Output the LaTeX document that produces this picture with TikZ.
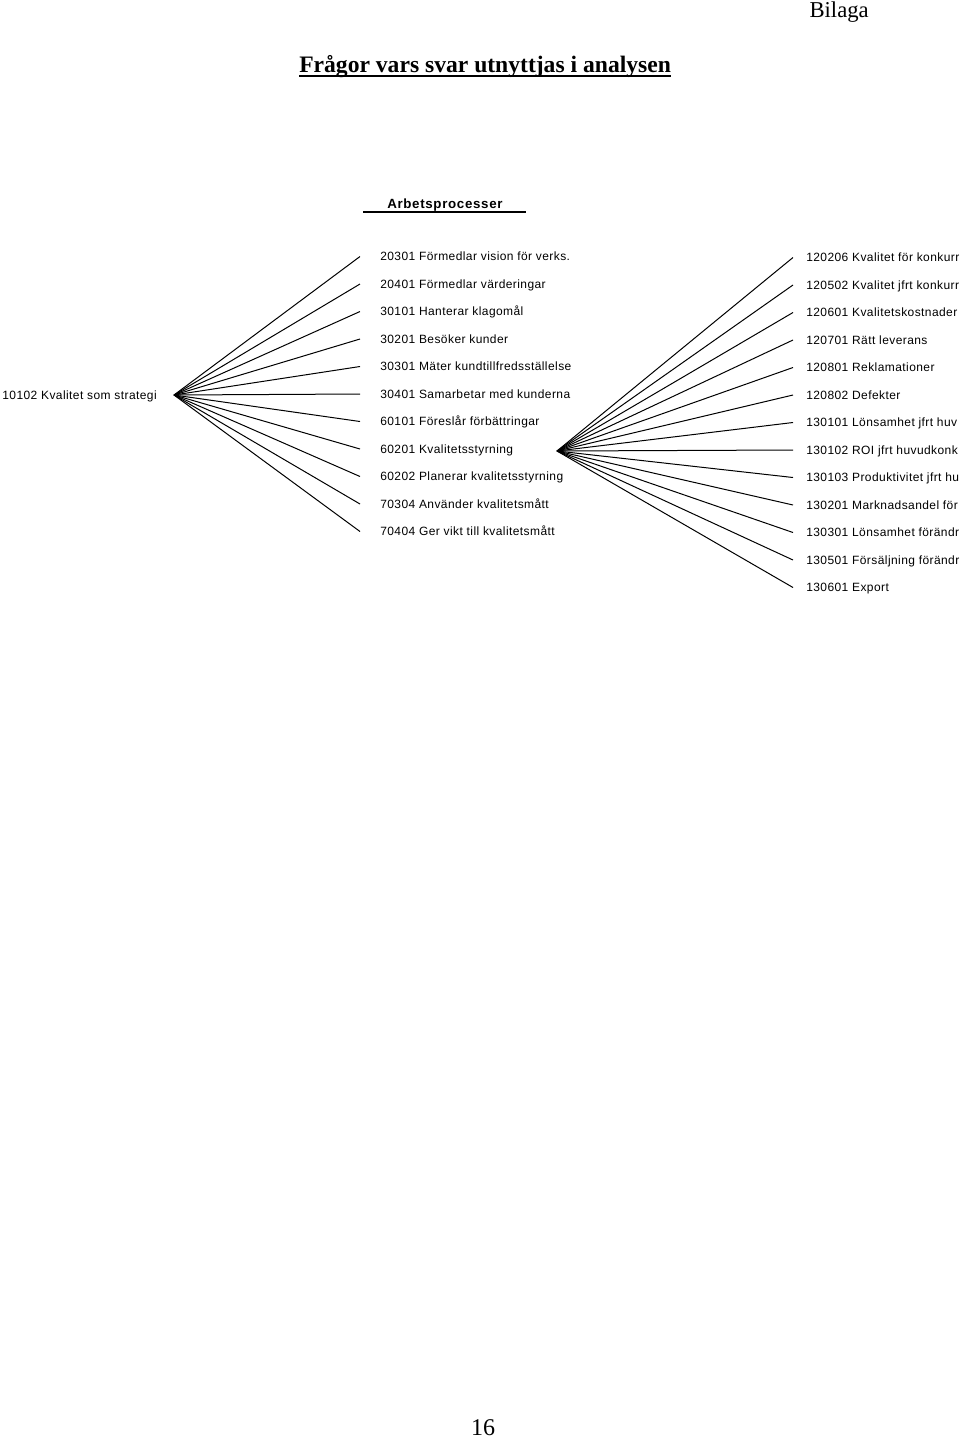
\documentclass[tikz,border=0pt]{standalone}
\usepackage{fontspec}
\setmainfont{Liberation Serif}
\setsansfont{Liberation Sans}
\newfontfamily\labfont[LetterSpace=3.5]{Liberation Sans}
\newfontfamily\headfont[LetterSpace=5]{Liberation Sans}
\begin{document}
\begin{tikzpicture}[x=0.75pt,y=-0.75pt,
  lab/.style={font=\labfont\fontsize{9}{11}\selectfont, text height=6.75pt, text depth=0.75pt, inner ysep=0pt, anchor=west},
  midlab/.style={lab, inner xsep=15pt},
  rightlab/.style={lab, inner xsep=9.75pt},
  fan/.style={line width=0.75pt, black}]
\useasboundingbox[fill=white] (0,0) rectangle (960,1440);

% header texts
\node[anchor=base east, inner sep=0pt, font=\rmfamily\fontsize{17}{18}\selectfont] (bilaga) at (869,17) {Bilaga};
\node[anchor=base west, inner sep=0pt, font=\rmfamily\bfseries\fontsize{17.7}{20}\selectfont] (title) at (299,72) {Frågor vars svar utnyttjas i analysen};
\draw[line width=1.4pt] ([yshift=-3.3pt]title.base west) -- ([yshift=-3.3pt]title.base east);

\node[anchor=base west, inner sep=0pt, font=\headfont\bfseries\fontsize{10}{12}\selectfont] (arb) at (387,208) {Arbetsprocesser};
\coordinate (ul1) at (363,212);
\coordinate (ul2) at (526,212);
\draw[line width=0.8pt] (ul1) -- (ul2);

% left root node
\node[lab, anchor=east, inner xsep=12.75pt] (L) at (174,395) {10102 Kvalitet som strategi};

% middle column
\foreach \i/\t in {1/{20301 Förmedlar vision för verks.},
                   2/{20401 Förmedlar värderingar},
                   3/{30101 Hanterar klagomål},
                   4/{30201 Besöker kunder},
                   5/{30301 Mäter kundtillfredsställelse},
                   6/{30401 Samarbetar med kunderna},
                   7/{60101 Föreslår förbättringar},
                   8/{60201 Kvalitetsstyrning},
                   9/{60202 Planerar kvalitetsstyrning},
                   10/{70304 Använder kvalitetsmått},
                   11/{70404 Ger vikt till kvalitetsmått}}{
  \node[midlab] (m\i) at (360,{256.5+27.5*(\i-1)}) {\t};
  \draw[fan] (L.east) -- (m\i.west);
}

% right hub and column
\coordinate (hub) at (557,451);
\foreach \i/\t in {1/{120206 Kvalitet för konkurr},
                   2/{120502 Kvalitet jfrt konkurr},
                   3/{120601 Kvalitetskostnader},
                   4/{120701 Rätt leverans},
                   5/{120801 Reklamationer},
                   6/{120802 Defekter},
                   7/{130101 Lönsamhet jfrt huv},
                   8/{130102 ROI jfrt huvudkonk},
                   9/{130103 Produktivitet jfrt hu},
                   10/{130201 Marknadsandel för},
                   11/{130301 Lönsamhet förändr},
                   12/{130501 Försäljning förändr},
                   13/{130601 Export}}{
  \node[rightlab] (r\i) at (793,{257.5+27.5*(\i-1)}) {\t};
  \draw[fan] (hub) -- (r\i.west);
}

% page number
\node[anchor=base, inner sep=0pt, font=\rmfamily\fontsize{18}{20}\selectfont] (pnum) at (483,1435) {16};
\end{tikzpicture}
\end{document}
